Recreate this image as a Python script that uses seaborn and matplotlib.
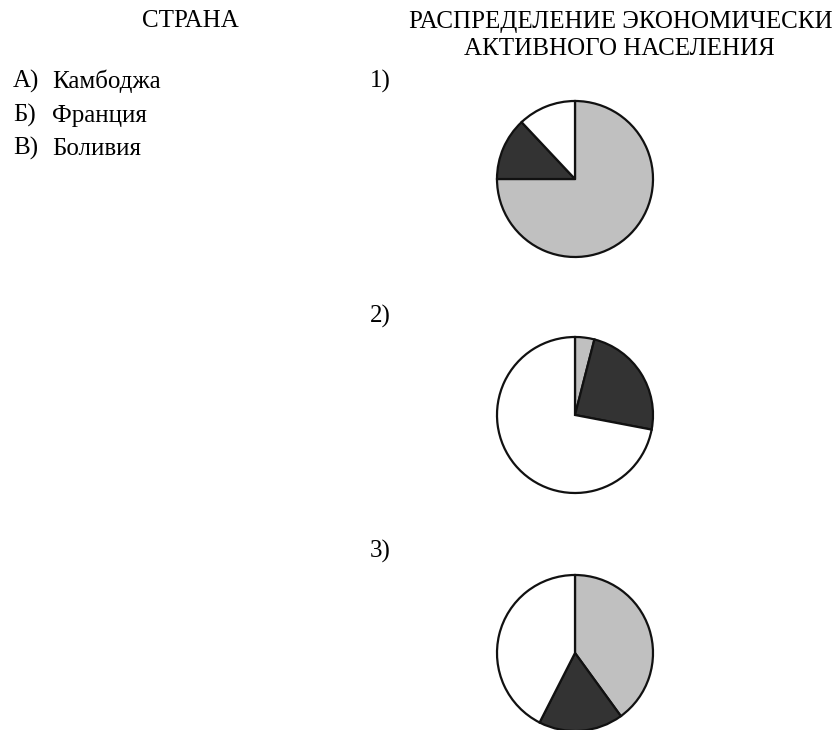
import matplotlib
matplotlib.use('Agg')
import matplotlib.pyplot as plt
import seaborn as sns

sns.set_theme(style='white')
plt.rcParams['font.family'] = ['Liberation Serif', 'DejaVu Serif']
plt.rcParams['text.color'] = 'black'

# ─── Data ────────────────────────────────────────────────────
letters = ['А)', 'Б)', 'В)']
countries = ['Камбоджа', 'Франция', 'Боливия']
pie_labels = ['1)', '2)', '3)']
# shares (%) clockwise from 12 o'clock: light gray, dark, white
gray_share = [75, 4, 40]
dark_share = [13, 24, 17.5]
white_share = [12, 72, 42.5]
colors = ['#c0c0c0', '#333333', '#ffffff']

W, H = 840, 730
fig = plt.figure(figsize=(W / 100, H / 100), dpi=100)

def px(x, y):
    return x / W, 1 - y / H

FS = 18

# ─── Headers ─────────────────────────────────────────────────
fig.text(*px(190, 27), 'СТРАНА', ha='center', va='baseline', fontsize=FS)
fig.text(*px(621, 28), 'РАСПРЕДЕЛЕНИЕ ЭКОНОМИЧЕСКИ', ha='center', va='baseline', fontsize=FS)
fig.text(*px(619, 55), 'АКТИВНОГО НАСЕЛЕНИЯ', ha='center', va='baseline', fontsize=FS)

# ─── Country list ────────────────────────────────────────────
for i, (l, c) in enumerate(zip(letters, countries)):
    yb = [88, 122, 155][i]
    fig.text(*px(13, yb), l, ha='left', va='baseline', fontsize=FS)
    fig.text(*px(52, yb), c, ha='left', va='baseline', fontsize=FS)

# ─── Pies ────────────────────────────────────────────────────
centers = [(575, 179), (575, 415), (575, 653)]
label_base = [88, 323, 558]
r = 78
for i in range(3):
    cx, cy = centers[i]
    fig.text(*px(370, label_base[i]), pie_labels[i], ha='left', va='baseline', fontsize=FS)
    ax = fig.add_axes([(cx - r) / W, 1 - (cy + r) / H, 2 * r / W, 2 * r / H])
    vals = [gray_share[i], dark_share[i], white_share[i]]
    ax.pie(vals, colors=colors, startangle=90, counterclock=False, radius=1,
           wedgeprops={'edgecolor': '#111111', 'linewidth': 1.6})
    ax.set_xlim(-1, 1)
    ax.set_ylim(-1, 1)
    ax.set_aspect('equal')
    ax.axis('off')
    for p in ax.patches:
        p.set_clip_on(False)

fig.savefig('out.png', dpi=100, facecolor='white')
